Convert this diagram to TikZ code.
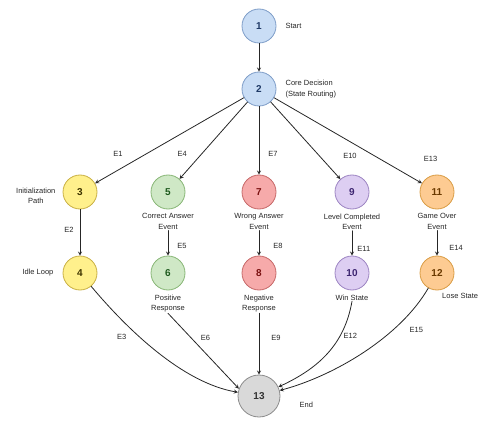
\documentclass[tikz,border=0pt]{standalone}
\usepackage{fontspec}
\setmainfont{Liberation Sans}
\usetikzlibrary{positioning}
\definecolor{blueF}{HTML}{C9DDF5}
\definecolor{blueD}{HTML}{7E9DC8}
\definecolor{blueT}{HTML}{1F3A66}
\definecolor{yellowF}{HTML}{FFF08C}
\definecolor{yellowD}{HTML}{C9B044}
\definecolor{yellowT}{HTML}{3D3300}
\definecolor{greenF}{HTML}{CFE8C6}
\definecolor{greenD}{HTML}{88B676}
\definecolor{greenT}{HTML}{1E5A1E}
\definecolor{redF}{HTML}{F6AAAA}
\definecolor{redD}{HTML}{C66868}
\definecolor{redT}{HTML}{7A1010}
\definecolor{purpleF}{HTML}{DDCEF2}
\definecolor{purpleD}{HTML}{9C84C2}
\definecolor{purpleT}{HTML}{3C2470}
\definecolor{orangeF}{HTML}{FDCB92}
\definecolor{orangeD}{HTML}{D99C44}
\definecolor{orangeT}{HTML}{6B3A00}
\definecolor{grayF}{HTML}{D9D9D9}
\definecolor{grayD}{HTML}{8C8C8C}
\tikzset{
	state/.style={circle,draw,line width=0.8pt,minimum size=34pt,inner sep=0pt,font=\fontsize{10}{12}\selectfont\bfseries},
	bluestate/.style={state,fill=blueF,draw=blueD,text=blueT},
	yellowstate/.style={state,fill=yellowF,draw=yellowD,text=yellowT},
	greenstate/.style={state,fill=greenF,draw=greenD,text=greenT},
	redstate/.style={state,fill=redF,draw=redD,text=redT},
	purplestate/.style={state,fill=purpleF,draw=purpleD,text=purpleT},
	orangestate/.style={state,fill=orangeF,draw=orangeD,text=orangeT},
	graystate/.style={state,fill=grayF,draw=grayD,text=black!80,minimum size=42pt},
	lbl/.style={font=\fontsize{7.5}{10.5}\selectfont,align=center,text=black!85,inner sep=1pt},
	elbl/.style={font=\fontsize{7.5}{9}\selectfont,text=black!85,inner sep=2pt},
	flow/.style={->,draw=black!85,line width=0.8pt}
}
\begin{document}
\begin{tikzpicture}[x=1pt,y=1pt,line cap=round,line join=round,>=stealth]
	\useasboundingbox (0,0) rectangle (479,421);
	% states
	\node[bluestate] (n1) at (259,395) {1};
	\node[bluestate] (n2) at (259,332) {2};
	\node[yellowstate] (n3) at (80,229) {3};
	\node[greenstate] (n5) at (168,229) {5};
	\node[redstate] (n7) at (259,229) {7};
	\node[purplestate] (n9) at (352,229) {9};
	\node[orangestate] (n11) at (437,229) {11};
	\node[yellowstate] (n4) at (80,148) {4};
	\node[greenstate] (n6) at (168,148) {6};
	\node[redstate] (n8) at (259,148) {8};
	\node[purplestate] (n10) at (352,148) {10};
	\node[orangestate] (n12) at (437,148) {12};
	\node[graystate] (n13) at (259,25) {13};
	% labels
	\node[lbl,right=8pt of n1] (l1) {Start};
	\node[lbl,right=8pt of n2,align=left] (l2) {Core Decision\\(State Routing)};
	\node[lbl,left=6pt of n3,yshift=-4pt] (l3) {Initialization\\Path};
	\node[lbl,left=8pt of n4] (l4) {Idle Loop};
	\node[lbl,below=3pt of n5] (l5) {Correct Answer\\Event};
	\node[lbl,below=3pt of n7] (l7) {Wrong Answer\\Event};
	\node[lbl,below=3pt of n9] (l9) {Level Completed\\Event};
	\node[lbl,below=3pt of n11] (l11) {Game Over\\Event};
	\node[lbl,below=3pt of n6] (l6) {Positive\\Response};
	\node[lbl,below=3pt of n8] (l8) {Negative\\Response};
	\node[lbl,below=3pt of n10] (l10) {Win State};
	\node[lbl,anchor=north west] (l12) at ([xshift=4pt,yshift=-2pt]n12.south) {Lose State};
	\node[lbl,right=18pt of n13,yshift=-9pt] (l13) {End};
	% transitions
	\draw[flow] (n1) -- (n2);
	\draw[flow] (n2) -- node[elbl,pos=0.8,above left,yshift=7pt]{E1} (n3);
	\draw[flow] (n2) -- node[elbl,pos=0.8,above left,xshift=-4pt,yshift=5pt]{E4} (n5);
	\draw[flow] (n2) -- node[elbl,pos=0.69,right=7pt]{E7} (n7);
	\draw[flow] (n2) -- node[elbl,pos=0.85,above right,xshift=11pt,yshift=7pt]{E10} (n9);
	\draw[flow] (n2) -- node[elbl,pos=0.93,above right,xshift=10pt,yshift=13pt]{E13} (n11);
	\draw[flow] (n3) -- node[elbl,pos=0.45,left=4pt]{E2} (n4);
	\draw[flow] (l5) -- node[elbl,right=7pt,yshift=-3pt]{E5} (n6);
	\draw[flow] (l7) -- node[elbl,right=12pt,yshift=-3pt]{E8} (n8);
	\draw[flow] (l9) -- node[elbl,right=3pt,yshift=-6pt]{E11} (n10);
	\draw[flow] (l11) -- node[elbl,right=10pt,yshift=-5pt]{E14} (n12);
	\draw[flow] (n4) to[out=-50,in=170,looseness=0.8] node[elbl,pos=0.25,below=12pt]{E3} (n13);
	\draw[flow] (l6.south) -- node[elbl,pos=0.33,right=7pt]{E6} (n13.160);
	\draw[flow] (l8.south) -- node[elbl,pos=0.4,right=10pt]{E9} (n13);
	\draw[flow] (l10.south) to[out=-100,in=25] node[elbl,pos=0.3,right=1pt]{E12} (n13);
	\draw[flow] (n12) to[out=-120,in=15,looseness=0.8] node[elbl,pos=0.2,below right=0pt,yshift=-9pt]{E15} (n13);
\end{tikzpicture}
\end{document}
